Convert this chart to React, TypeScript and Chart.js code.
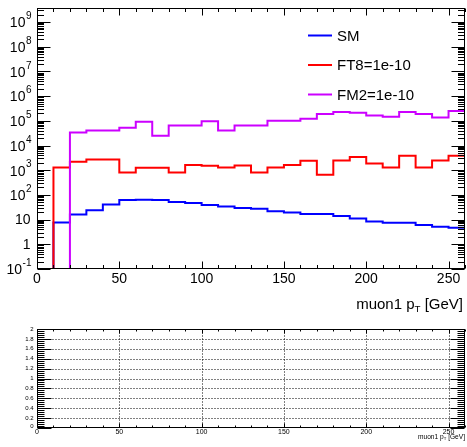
import React, { useEffect, useRef } from "react";
import { Chart, registerables } from "chart.js";

Chart.register(...registerables);

// ---------- data ----------
const BIN_EDGES = [0, 10, 20, 30, 40, 50, 60, 70, 80, 90, 100, 110, 120, 130, 140, 150, 160, 170, 180, 190, 200, 210, 220, 230, 240, 250, 260];
const SM = [0, 7.6, 16, 24, 41, 62, 63, 62, 52, 47, 39, 34, 29.5, 27.5, 22, 19.5, 17, 17, 14, 11, 8.3, 7.4, 7.4, 6.0, 5.1, 4.7];
const FT8 = [0, 1290, 2190, 2700, 2700, 810, 1270, 1250, 810, 1630, 1510, 1290, 1560, 810, 1290, 1630, 2400, 650, 2450, 3400, 1870, 1290, 3840, 1290, 2460, 3840];
const FM2 = [0, 0, 33700, 40500, 40500, 52000, 91000, 24700, 64500, 64500, 97000, 40500, 64500, 64500, 100000, 100000, 120000, 187000, 230000, 210000, 164000, 145000, 230000, 187000, 136000, 250000];
const SERIES_LABELS = ["SM", "FT8=1e-10", "FM2=1e-10"];
const SERIES_COLORS = ["#0000ff", "#ff0000", "#cc00ff"];

const X_TICKS = [0, 50, 100, 150, 200, 250];
const X_TICK_LABELS = ["0", "50", "100", "150", "200", "250"];
const Y_DECADES = [0.1, 1, 10, 1e2, 1e3, 1e4, 1e5, 1e6, 1e7, 1e8, 1e9];
const Y_TICK_BASES = ["10", "1", "10", "10", "10", "10", "10", "10", "10", "10", "10"];
const Y_TICK_EXPS = ["-1", "", "", "2", "3", "4", "5", "6", "7", "8", "9"];
const RATIO_TICKS = [0, 0.2, 0.4, 0.6, 0.8, 1, 1.2, 1.4, 1.6, 1.8, 2];
const RATIO_TICK_LABELS = ["0", "0.2", "0.4", "0.6", "0.8", "1", "1.2", "1.4", "1.6", "1.8", "2"];
const X_TITLE_MAIN = "muon1 p";
const X_TITLE_SUB = "T";
const X_TITLE_UNIT = " [GeV]";

const X_MIN = 0;
const X_MAX = 260;
const Y_MIN = 0.1;
const Y_MAX = 3.7e9;
const RATIO_MIN = 0;
const RATIO_MAX = 2;

const FONT = '"Liberation Sans", Arial, Helvetica, sans-serif';

function histPoints(values: number[]) {
  const pts = values.map((v, i) => ({ x: BIN_EDGES[i], y: v > 0 ? v : Y_MIN }));
  const last = values[values.length - 1];
  pts.push({ x: BIN_EDGES[values.length], y: last > 0 ? last : Y_MIN });
  return pts;
}

function drawTitle(ctx: CanvasRenderingContext2D, rightX: number, baseline: number, size: number) {
  const main = `${size}px ${FONT}`;
  const sub = `${size * 0.65}px ${FONT}`;
  ctx.font = main;
  const wUnit = ctx.measureText(X_TITLE_UNIT).width;
  const wMain = ctx.measureText(X_TITLE_MAIN).width;
  ctx.font = sub;
  const wSub = ctx.measureText(X_TITLE_SUB).width;
  let xx = rightX - wUnit - wSub - wMain;
  ctx.textAlign = "left";
  ctx.textBaseline = "alphabetic";
  ctx.font = main;
  ctx.fillText(X_TITLE_MAIN, xx, baseline);
  xx += wMain;
  ctx.font = sub;
  ctx.fillText(X_TITLE_SUB, xx, baseline + size * 0.22);
  xx += wSub;
  ctx.font = main;
  ctx.fillText(X_TITLE_UNIT, xx, baseline);
}

const topDecor = {
  id: "topDecor",
  afterDatasetsDraw(chart: any) {
    const { ctx, chartArea: a, scales } = chart;
    const x = scales.x;
    const y = scales.y;
    ctx.save();
    ctx.strokeStyle = "#000";
    ctx.fillStyle = "#000";
    ctx.lineWidth = 1;
    const L = Math.round(a.left) + 0.5;
    const R = Math.round(a.right) - 0.5;
    const T = Math.round(a.top) + 0.5;
    const B = Math.round(a.bottom) - 0.5;
    ctx.strokeRect(L, T, R - L, B - T);
    ctx.beginPath();
    for (let v = X_MIN; v <= X_MAX; v += 10) {
      const px = Math.round(x.getPixelForValue(v)) + 0.5;
      const len = v % 50 === 0 ? 7 : 3.5;
      ctx.moveTo(px, B);
      ctx.lineTo(px, B - len);
      ctx.moveTo(px, T);
      ctx.lineTo(px, T + len);
    }
    for (const d of Y_DECADES) {
      for (let k = 1; k <= 9; k++) {
        const v = k * d;
        if (v < Y_MIN * 0.999 || v > Y_MAX) continue;
        const py = Math.round(y.getPixelForValue(v)) + 0.5;
        const len = k === 1 ? 13 : 6.5;
        ctx.moveTo(L, py);
        ctx.lineTo(L + len, py);
        ctx.moveTo(R, py);
        ctx.lineTo(R - len, py);
      }
    }
    ctx.stroke();

    // x tick labels
    ctx.font = `14px ${FONT}`;
    ctx.textAlign = "center";
    ctx.textBaseline = "middle";
    X_TICKS.forEach((v, i) => {
      ctx.fillText(X_TICK_LABELS[i], x.getPixelForValue(v), 279);
    });

    // y tick labels
    const rightEdge = 31.5;
    Y_DECADES.forEach((v, i) => {
      const py = y.getPixelForValue(v);
      const base = Y_TICK_BASES[i];
      const exp = Y_TICK_EXPS[i];
      ctx.textAlign = "left";
      ctx.textBaseline = "middle";
      if (!exp) {
        ctx.font = `14px ${FONT}`;
        const w = ctx.measureText(base).width;
        ctx.fillText(base, rightEdge - 1 - w, py + 1);
      } else {
        ctx.font = `10px ${FONT}`;
        const ew = ctx.measureText(exp).width;
        ctx.fillText(exp, rightEdge - ew, py - 5.5);
        ctx.font = `14px ${FONT}`;
        const bw = ctx.measureText(base).width;
        ctx.fillText(base, rightEdge - ew - bw - 0.5, py + 1.5);
      }
    });

    // legend
    const legendY = [35.5, 65, 94.5];
    chart.data.datasets.forEach((ds: any, i: number) => {
      ctx.strokeStyle = ds.borderColor;
      ctx.lineWidth = 2;
      ctx.beginPath();
      ctx.moveTo(308, legendY[i]);
      ctx.lineTo(332, legendY[i]);
      ctx.stroke();
      ctx.fillStyle = "#000";
      ctx.font = `15px ${FONT}`;
      ctx.textAlign = "left";
      ctx.textBaseline = "middle";
      ctx.fillText(ds.label, 337, legendY[i] + 1);
    });

    ctx.fillStyle = "#000";
    drawTitle(ctx, 463, 308.5, 15);
    ctx.restore();
  },
};

const bottomDecor = {
  id: "bottomDecor",
  afterDatasetsDraw(chart: any) {
    const { ctx, chartArea: a, scales } = chart;
    const x = scales.x;
    const y = scales.y;
    ctx.save();
    ctx.strokeStyle = "#000";
    ctx.fillStyle = "#000";
    ctx.lineWidth = 1;
    const L = Math.round(a.left) + 0.5;
    const R = Math.round(a.right) - 0.5;
    const T = Math.round(a.top) + 0.5;
    const B = Math.round(a.bottom) - 0.5;

    // dotted grid
    ctx.setLineDash([1, 2]);
    ctx.beginPath();
    X_TICKS.forEach((v) => {
      if (v <= X_MIN) return;
      const px = Math.round(x.getPixelForValue(v)) + 0.5;
      ctx.moveTo(px, T);
      ctx.lineTo(px, B);
    });
    RATIO_TICKS.forEach((v) => {
      if (v <= RATIO_MIN || v >= RATIO_MAX) return;
      const py = Math.round(y.getPixelForValue(v)) + 0.5;
      ctx.moveTo(L, py);
      ctx.lineTo(R, py);
    });
    ctx.stroke();
    ctx.setLineDash([]);

    ctx.strokeRect(L, T, R - L, B - T);
    ctx.beginPath();
    for (let v = X_MIN; v <= X_MAX; v += 10) {
      const px = Math.round(x.getPixelForValue(v)) + 0.5;
      const len = v % 50 === 0 ? 4 : 2;
      ctx.moveTo(px, B);
      ctx.lineTo(px, B - len);
      ctx.moveTo(px, T);
      ctx.lineTo(px, T + len);
    }
    for (let k = 0; k <= 50; k++) {
      const v = RATIO_MIN + k * 0.04;
      const py = Math.round(y.getPixelForValue(v)) + 0.5;
      const len = k % 5 === 0 ? 14 : 7;
      ctx.moveTo(L, py);
      ctx.lineTo(L + len, py);
      ctx.moveTo(R, py);
      ctx.lineTo(R - len, py);
    }
    ctx.stroke();

    ctx.font = `6px ${FONT}`;
    ctx.textAlign = "right";
    ctx.textBaseline = "middle";
    RATIO_TICKS.forEach((v, i) => {
      ctx.fillText(RATIO_TICK_LABELS[i], 33.5, y.getPixelForValue(v) - (i === 0 ? 1.5 : 0));
    });
    ctx.font = `7px ${FONT}`;
    ctx.textAlign = "center";
    X_TICKS.forEach((v, i) => {
      ctx.fillText(X_TICK_LABELS[i], x.getPixelForValue(v), 117.5);
    });
    drawTitle(ctx, 465, 123.5, 6.6);
    ctx.restore();
  },
};

export default function App() {
  const topRef = useRef<HTMLCanvasElement | null>(null);
  const botRef = useRef<HTMLCanvasElement | null>(null);

  useEffect(() => {
    const series = [SM, FT8, FM2];
    const top = new Chart(topRef.current as HTMLCanvasElement, {
      type: "line",
      data: {
        datasets: series.map((vals, i) => ({
          label: SERIES_LABELS[i],
          data: histPoints(vals),
          borderColor: SERIES_COLORS[i],
          backgroundColor: SERIES_COLORS[i],
          borderWidth: 2,
          pointRadius: 0,
          fill: false,
          stepped: "before" as const,
          order: 2 - i,
        })),
      },
      options: {
        animation: false,
        responsive: false,
        devicePixelRatio: 1,
        layout: { padding: { left: 37, right: 2, top: 8, bottom: 46 } },
        plugins: { legend: { display: false }, tooltip: { enabled: false } },
        scales: {
          x: { type: "linear", min: X_MIN, max: X_MAX, display: false },
          y: { type: "logarithmic", min: Y_MIN, max: Y_MAX, display: false },
        },
      },
      plugins: [topDecor],
    });
    const bot = new Chart(botRef.current as HTMLCanvasElement, {
      type: "line",
      data: { datasets: [] },
      options: {
        animation: false,
        responsive: false,
        devicePixelRatio: 1,
        layout: { padding: { left: 37, right: 2, top: 14, bottom: 19 } },
        plugins: { legend: { display: false }, tooltip: { enabled: false } },
        scales: {
          x: { type: "linear", min: X_MIN, max: X_MAX, display: false },
          y: { type: "linear", min: RATIO_MIN, max: RATIO_MAX, display: false },
        },
      },
      plugins: [bottomDecor],
    });
    return () => {
      top.destroy();
      bot.destroy();
    };
  }, []);

  return (
    <div style={{ position: "fixed", left: 0, top: 0, width: 467, height: 447, background: "#fff" }}>
      <canvas ref={topRef} width={467} height={315} style={{ position: "absolute", left: 0, top: 0, width: 467, height: 315 }} />
      <canvas ref={botRef} width={467} height={132} style={{ position: "absolute", left: 0, top: 315, width: 467, height: 132 }} />
    </div>
  );
}
